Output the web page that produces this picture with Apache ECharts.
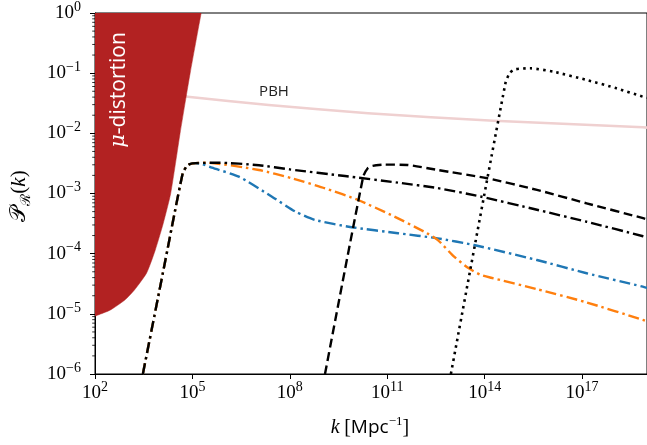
<!DOCTYPE html>
<html><head><meta charset="utf-8">
<script src="https://cdn.jsdelivr.net/npm/echarts@6/dist/echarts.min.js"></script>
<style>html,body{margin:0;padding:0;background:#fff}#c{width:647px;height:445px}</style>
</head><body><div id="c"></div>
<script>
// All values are log10(k) and log10(P)
const muLogK = [2.0, 2.09, 2.46, 2.92, 3.22, 3.59, 3.85, 4.10, 4.33, 4.62, 4.93, 5.27];
const muLogP = [-5.04, -5.02, -4.94, -4.77, -4.60, -4.32, -3.95, -3.5, -3.0, -2.0, -1.0, 0];

const pbhLogK = [4.7, 4.853, 7.35, 10.41, 14.28, 18.87, 19.0];
const pbhLogP = [-1.37, -1.391, -1.529, -1.667, -1.79, -1.90, -1.905];

const blueLogK = [3.474, 4.089, 4.70, 4.82, 4.92, 5.1, 5.3, 5.6, 6.43, 7.45, 8.17, 8.78, 9.90, 11.33, 12.55, 13.67, 15.61, 17.14, 18.87, 19.0];
const blueLogP = [-6.0, -4.326, -2.664, -2.55, -2.51, -2.497, -2.51, -2.57, -2.72, -3.053, -3.30, -3.44, -3.56, -3.66, -3.745, -3.856, -4.105, -4.326, -4.549, -4.57];

const orangeLogK = [3.474, 4.089, 4.70, 4.82, 4.92, 5.1, 5.416, 7.046, 8.064, 9.086, 10.10, 11.12, 12.14, 12.55, 13.06, 13.5, 13.87, 14.2, 15.61, 17.14, 18.87, 19.0];
const orangeLogP = [-6.0, -4.326, -2.664, -2.55, -2.51, -2.495, -2.488, -2.609, -2.747, -2.913, -3.108, -3.357, -3.635, -3.77, -4.05, -4.24, -4.35, -4.40, -4.59, -4.81, -5.10, -5.125];

const dashdotLogK = [3.474, 4.089, 4.70, 4.82, 4.92, 5.1, 5.8, 7.05, 8.0, 9.7, 11.33, 12.55, 13.87, 15.61, 17.14, 18.88, 19.0];
const dashdotLogP = [-6.0, -4.326, -2.664, -2.55, -2.51, -2.495, -2.488, -2.53, -2.60, -2.71, -2.82, -2.91, -3.05, -3.27, -3.47, -3.71, -3.73];

const dashedLogK = [9.083, 10.26, 10.40, 10.55, 10.92, 11.63, 12.55, 14.08, 15.61, 17.14, 18.88, 19.0];
const dashedLogP = [-6.0, -2.72, -2.58, -2.54, -2.52, -2.526, -2.609, -2.747, -2.94, -3.163, -3.41, -3.43];

const dottedLogK = [12.96, 14.64, 14.78, 14.95, 15.40, 16.12, 17.14, 18.06, 18.87, 19.0];
const dottedLogP = [-6.0, -1.168, -0.99, -0.935, -0.919, -0.976, -1.113, -1.251, -1.391, -1.41];

const yMinorMult = [2, 3, 4, 5, 6, 7, 8, 9];
const yDecades = [-6, -5, -4, -3, -2, -1];

const X_MIN = 1e2, X_MAX = 1e19, Y_MIN = 1e-6, Y_MAX = 1;

function pts(lk, lp) { return lk.map((k, i) => [Math.pow(10, k), Math.pow(10, lp[i])]); }

const yMinor = [];
yDecades.forEach(d => yMinorMult.forEach(m => yMinor.push([X_MIN, m * Math.pow(10, d)])));

const SERIF = '"Liberation Serif", "DejaVu Serif", serif';
const SANS = '"Open Sans", "DejaVu Sans", sans-serif';

function expLabel(v) {
  const e = Math.round(Math.log10(v));
  return '{b|10}{e|' + (e < 0 ? '\u2212' + (-e) : e) + '}';
}
const labelRich = {
  b: { fontFamily: SERIF, fontSize: 19, lineHeight: 26, color: '#000' },
  e: { fontFamily: SERIF, fontSize: 14, lineHeight: 14, verticalAlign: 'top', color: '#000' }
};

function lineSeries(lk, lp, color, type, width, z) {
  return {
    type: 'line', data: pts(lk, lp), showSymbol: false, symbol: 'none',
    smooth: 0.2, clip: true, z: z, silent: true,
    lineStyle: { color: color, width: width, type: type, cap: 'butt', join: 'round' }
  };
}

const chart = echarts.init(document.getElementById('c'), null, { renderer: 'canvas' });
chart.setOption({
  animation: false,
  backgroundColor: '#fff',
  grid: { left: 95, top: 13, right: -4, bottom: 71, show: true, borderColor: '#000', borderWidth: 1, backgroundColor: 'transparent' },
  xAxis: {
    type: 'log', logBase: 10, min: X_MIN, max: X_MAX, interval: 3,
    axisLine: { show: true, lineStyle: { color: '#000', width: 1 } },
    axisTick: { show: true, inside: false, length: 5, lineStyle: { color: '#000', width: 1 } },
    axisLabel: {
      margin: 6, showMaxLabel: false,
      formatter: v => { const e = Math.round(Math.log10(v)); return ((e - 2) % 3 === 0) ? expLabel(v) : ''; },
      rich: labelRich
    },
    splitLine: { show: false }
  },
  yAxis: {
    type: 'log', logBase: 10, min: Y_MIN, max: Y_MAX, interval: 1,
    axisLine: { show: true, lineStyle: { color: '#000', width: 1 } },
    axisTick: { show: true, inside: false, length: 5, lineStyle: { color: '#000', width: 1 } },
    axisLabel: { margin: 14, formatter: v => expLabel(v), rich: labelRich },
    splitLine: { show: false }
  },
  series: [
    lineSeries(pbhLogK, pbhLogP, '#efd0d0', 'solid', 2.6, 2),
    lineSeries(blueLogK, blueLogP, '#1f77b4', [11, 4, 2.5, 4], 2.4, 3),
    Object.assign(lineSeries(orangeLogK, orangeLogP, '#ff7f0e', [11, 4, 2.5, 4], 2.4, 4), {}),
    lineSeries(dashdotLogK, dashdotLogP, '#000', [11, 4, 2.5, 4], 2.4, 5),
    lineSeries(dashedLogK, dashedLogP, '#000', [9, 4.5], 2.4, 5),
    lineSeries(dottedLogK, dottedLogP, '#000', [2.5, 4.2], 2.6, 5),
    {
      type: 'line', data: pts(muLogK, muLogP), showSymbol: false, symbol: 'none', smooth: 0.2,
      z: 8, silent: true,
      lineStyle: { color: '#b22222', width: 0.5 },
      areaStyle: { color: '#b22222', opacity: 1, origin: 'end' }
    },
    {
      type: 'custom', data: yMinor, encode: { x: 0, y: 1 }, clip: false, z: 10, silent: true,
      renderItem: (params, api) => {
        const p = api.coord([api.value(0), api.value(1)]);
        return { type: 'line', shape: { x1: p[0] - 2.8, y1: p[1], x2: p[0], y2: p[1] }, style: { stroke: '#000', lineWidth: 0.8 } };
      }
    }
  ],
  graphic: [
    {
      type: 'text', x: 119, y: 90, rotation: Math.PI / 2, z: 100,
      style: {
        text: '{m|\u03bc}{t|-distortion}', align: 'center', verticalAlign: 'middle',
        rich: {
          m: { fontFamily: '"DejaVu Serif", serif', fontStyle: 'italic', fontSize: 21, fill: '#fff', color: '#fff' },
          t: { fontFamily: SANS, fontSize: 21, fill: '#fff', color: '#fff' }
        }
      }
    },
    {
      type: 'text', x: 274, y: 92, z: 100,
      style: { text: 'PBH', fontFamily: SANS, fontSize: 15, fill: '#222', align: 'center', verticalAlign: 'middle' }
    },
    {
      type: 'text', x: 370, y: 428, z: 100,
      style: {
        text: '{k|k}{s|  }{b|[}{m|Mpc}{e|\u22121}{b|]}', align: 'center', verticalAlign: 'middle',
        rich: {
          k: { fontFamily: SERIF, fontStyle: 'italic', fontSize: 20, lineHeight: 26, fill: '#000' },
          s: { fontFamily: SERIF, fontSize: 9, lineHeight: 26, fill: '#000' },
          b: { fontFamily: SERIF, fontSize: 20, lineHeight: 26, fill: '#000' },
          m: { fontFamily: SANS, fontSize: 19, lineHeight: 26, fill: '#000' },
          e: { fontFamily: SERIF, fontSize: 13, lineHeight: 12, verticalAlign: 'top', fill: '#000' }
        }
      }
    },
    {
      type: 'text', x: 19, y: 196, rotation: Math.PI / 2, z: 100,
      style: {
        text: '{p|\ud835\udcab}{r|\u211b}{n|(}{k|k}{n|)}', align: 'center', verticalAlign: 'middle',
        rich: {
          p: { fontFamily: SERIF, fontSize: 22, lineHeight: 28, fill: '#000' },
          r: { fontFamily: SERIF, fontSize: 14, lineHeight: 16, verticalAlign: 'bottom', fill: '#000' },
          n: { fontFamily: SERIF, fontSize: 21, lineHeight: 28, fill: '#000' },
          k: { fontFamily: SERIF, fontStyle: 'italic', fontSize: 21, lineHeight: 28, fill: '#000' }
        }
      }
    }
  ]
});
</script></body></html>
